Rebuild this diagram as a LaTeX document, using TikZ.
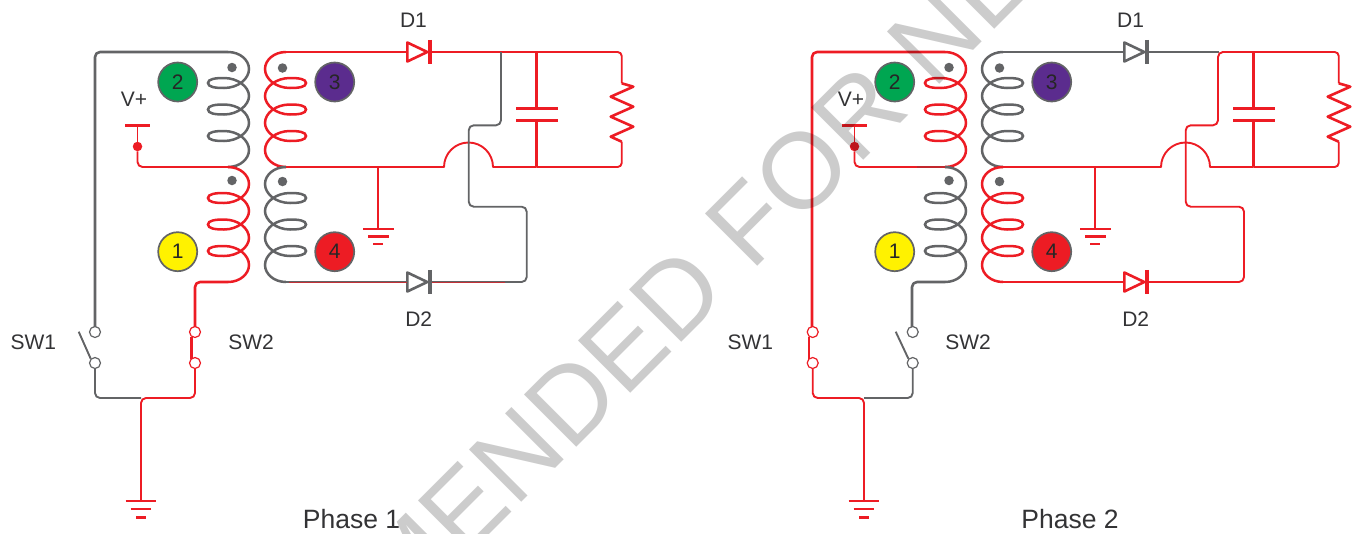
\documentclass[tikz,border=0pt]{standalone}
\usepackage{fontspec}
\setmainfont{Liberation Sans}
\definecolor{rd}{HTML}{ED1C24}
\definecolor{gy}{HTML}{636466}
\definecolor{ink}{HTML}{333335}
\definecolor{dkrd}{HTML}{C2272D}
\tikzset{
  wire/.style={line width=1.9pt,line join=round},
  wirethick/.style={line width=2.6pt,line join=round},
  coilline/.style={line width=2.5pt},
  swnode/.style={circle,fill=white,line width=1.2pt,inner sep=0pt,minimum size=11pt},
  lbl/.style={inner sep=0pt,text=ink,font=\fontsize{21}{24}\selectfont},
  phaselbl/.style={inner sep=0pt,text=ink,font=\fontsize{26.5}{30}\selectfont},
  numnode/.style={circle,draw=gy,line width=1.7pt,inner sep=0pt,minimum size=39pt,text=black!85,font=\fontsize{21}{24}\selectfont},
  dotnode/.style={circle,fill=gy,inner sep=0pt,minimum size=9.5pt},
  vdot/.style={circle,fill=rd,inner sep=0pt,minimum size=9.5pt},
  watermark/.style={inner sep=0pt,text=black,text opacity=0.2,font=\fontsize{107.5}{120}\selectfont},
}
\newcommand\coil[4]{%
  \begin{scope}[shift={(#1,#2)},xscale=#3]
  \draw[coilline,draw=#4] (0,0) .. controls (12,0) and (21,8) .. (21,17)
   .. controls (21,27) and (10,36) .. (-4,36) .. controls (-13,36) and (-20,35) .. (-20,31)
   .. controls (-20,27) and (-13,26) .. (-4,26) .. controls (10,26) and (21,35) .. (21,44)
   .. controls (21,53) and (10,62.5) .. (-4,62.5) .. controls (-13,62.5) and (-20,61.5) .. (-20,57.5)
   .. controls (-20,53.5) and (-13,52.5) .. (-4,52.5) .. controls (10,52.5) and (21,61) .. (21,71)
   .. controls (21,80) and (10,89) .. (-4,89) .. controls (-13,89) and (-20,88) .. (-20,84)
   .. controls (-20,80) and (-13,79) .. (-4,79) .. controls (10,79) and (21,88) .. (21,98)
   .. controls (21,107) and (12,115) .. (0,115);
  \end{scope}}
\newcommand\diode[3]{%
  \draw[line width=2.6pt,draw=#3,fill=white,line join=round] (#1,#2-9.5) -- (#1+20,#2) -- (#1,#2+9.5) -- cycle;
  \draw[draw=#3,line width=3.8pt] (#1+22.7,#2-12.2) -- (#1+22.7,#2+12.2);}
\newcommand\gnd[4]{%
  \draw[rd,line width=2.5pt] (#1-15.3,#2) -- (#1+15.3,#2);
  \draw[rd,line width=2.5pt] (#1-10.3,#2+#3) -- (#1+10.3,#2+#3);
  \draw[rd,line width=2.5pt] (#1-5,#2+2*#3) -- (#1+5,#2+2*#3);}
\newcommand\Panel[6]{%
  % coils: primary top, primary bottom, secondary top, secondary bottom
  \coil{228}{52}{1}{#2}
  \coil{228}{167}{1}{#3}
  \coil{286}{52}{-1}{#4}
  \coil{286}{167}{-1}{#5}
  \node[dotnode] (#1-dot2) at (232,67.5) {};
  \node[dotnode] (#1-dot3) at (282.5,68) {};
  \node[dotnode] (#1-dot1) at (232,180.5) {};
  \node[dotnode] (#1-dot4) at (282.5,181.5) {};
  \node[numnode,fill={rgb,255:red,0;green,166;blue,81}] (#1-n2) at (177.7,82) {2};
  \node[numnode,fill={rgb,255:red,91;green,44;blue,142}] (#1-n3) at (334.7,82) {3};
  \node[numnode,fill={rgb,255:red,255;green,242;blue,0}] (#1-n1) at (177.7,251.7) {1};
  \node[numnode,fill=rd] (#1-n4) at (334.7,251.7) {4};
  % V+
  \node[lbl] (#1-vp) at (134,99) {V+};
  \node[vdot] (#1-vd) at (137.5,146.5) {};
  \coordinate (#1-vtop) at (137.5,125.5);
  \draw[rd,line width=3.6pt] (125,125.5) -- (150,125.5);
  \draw[wire,rd] (#1-vtop) -- (#1-vd);
  \draw[wire,rd,rounded corners=5pt] (#1-vd) -- (137.5,167) -- (228,167);
  \draw[wirethick,draw=#6] (200,167) -- (228,167);
  % middle wire with jump
  \draw[wire,rd] (286,167) -- (444,167) .. controls (444,153.5) and (455,142.5) .. (468.5,142.5)
     .. controls (482,142.5) and (493,153.5) .. (493,167) -- (536.7,167);
  \draw[wire,rd,rounded corners=4pt] (536.7,167) -- (621.7,167) -- (621.7,141.7);
  \draw[wirethick,draw=rd] (286,167) -- (314,167);
  % ground of the secondary
  \coordinate (#1-g2) at (378.3,229);
  \draw[wire,rd] (378.3,167) -- (#1-g2);
  \gnd{378.3}{229}{7.4}{}
  % rail, resistor, capacitor
  \draw[wire,rd,rounded corners=4pt] (505,52) -- (621.7,52) -- (621.7,83.3);
  \draw[wirethick,rd,line join=round] (621.7,83.3) -- (633.3,86.7) -- (610.7,96.7) -- (633.3,106.7) -- (610.7,116.7) -- (633.3,126.7) -- (610.7,136.7) -- (621.7,141.7);
  \draw[wirethick,rd] (536.7,52) -- (536.7,108.3);
  \draw[wirethick,rd] (536.7,120.7) -- (536.7,167);
  \draw[rd,line width=3.2pt] (516,108.3) -- (557.7,108.3);
  \draw[rd,line width=3.2pt] (516,120.7) -- (557.7,120.7);
  % primary wires
  \draw[wirethick,draw=#2,rounded corners=5pt] (228,52) -- (95,52) -- (95,327);
  \draw[wirethick,draw=#3,rounded corners=5pt] (228,282) -- (195,282) -- (195,327);
  % diodes
  \draw[wire,draw=#4] (286,52) -- (407,52);
  \diode{407.3}{52}{#4}
  \diode{407.3}{282}{#5}
  \node[lbl] (#1-D1) at (413.5,20.7) {D1};
  \node[lbl] (#1-D2) at (418.7,319) {D2};
  \node[lbl] (#1-SW1) at (33.3,342) {SW1};
  \node[lbl] (#1-SW2) at (251,342) {SW2};
}
\begin{document}
\begin{tikzpicture}[x=1pt,y=-1pt]
\useasboundingbox (0,0) rectangle (1356,533);
% ---------- Phase 1 ----------
\begin{scope}
  \Panel{a}{gy}{rd}{rd}{gy}{rd}
  \draw[wire,rd] (430,52) -- (505,52);
  \draw[wire,gy] (430,282) -- (505,282);
  \draw[wire,gy,rounded corners=5pt] (501,52) -- (501,125.3) -- (468.7,125.3) -- (468.7,206.7) -- (526.7,206.7) -- (526.7,282) -- (505,282);
  \draw[wirethick,gy] (286,282) -- (407,282);
  \draw[wirethick,gy] (430,282) -- (505,282);
  \draw[line width=0.9pt,rd,opacity=0.7] (289,282) -- (407,282);
  \draw[line width=0.9pt,rd,opacity=0.7] (432,282) -- (505,282);
  % switches
  \node[swnode,draw=gy] (a-s1a) at (95,332) {};
  \node[swnode,draw=gy] (a-s1b) at (95,363) {};
  \node[swnode,draw=rd] (a-s2a) at (195,332) {};
  \node[swnode,draw=rd] (a-s2b) at (195,363) {};
  \draw[wire,gy] (78.7,331.7) -- (a-s1b.north west);
  \draw[wirethick,rd] (191.7,336.5) -- (191.7,359);
  \draw[wire,gy,rounded corners=5pt] (a-s1b) -- (95,398) -- (141,398);
  \draw[wire,rd,rounded corners=5pt] (a-s2b) -- (195,398) -- (141,398) -- (141,501);
  \gnd{141}{501}{8.2}{}
\end{scope}
% ---------- Phase 2 ----------
\begin{scope}[shift={(717,0)}]
  \Panel{b}{rd}{gy}{gy}{rd}{dkrd}
  \draw[wire,gy] (430,52) -- (502,52);
  \draw[wirethick,rd] (286,282) -- (407,282);
  \draw[wirethick,rd] (430,282) -- (505,282);
  \draw[wire,rd,rounded corners=5pt] (505,52) -- (501,52) -- (501,125.3) -- (468.7,125.3) -- (468.7,206.7) -- (527,206.7) -- (527,282) -- (505,282);
  % switches
  \node[swnode,draw=rd] (b-s1a) at (95.7,332) {};
  \node[swnode,draw=rd] (b-s1b) at (95.7,363) {};
  \node[swnode,draw=gy] (b-s2a) at (195.7,332) {};
  \node[swnode,draw=gy] (b-s2b) at (195.7,363) {};
  \draw[wirethick,rd] (92,336.5) -- (92,359);
  \draw[wire,gy] (178.7,331.7) -- (b-s2b.north west);
  \draw[wire,gy,rounded corners=5pt] (b-s2b) -- (195.7,398) -- (147,398);
  \draw[wire,rd,rounded corners=5pt] (b-s1b) -- (95.7,398) -- (147,398) -- (147,501);
  \gnd{147}{501}{8.2}{}
\end{scope}
\node[phaselbl] (ph1) at (351.5,519) {Phase 1};
\node[phaselbl] (ph2) at (1070,519) {Phase 2};
% ---------- watermark ----------
\begin{scope}
  \clip (0,0) rectangle (1356,533);
  \node[watermark,rotate=45,anchor=base west] (wm) at (401,623) {MENDED FOR NE};
\end{scope}
\end{tikzpicture}
\end{document}
